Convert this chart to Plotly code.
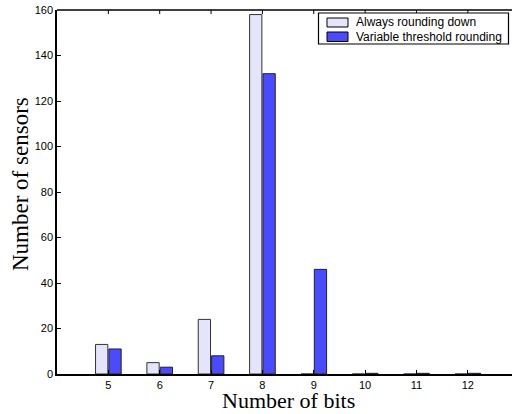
import plotly.graph_objects as go

bits = [5, 6, 7, 8, 9, 10, 11, 12]
always_down = [13, 5, 24, 158, 0, 0, 0, 0]
variable_thr = [11, 3, 8, 132, 46, 0.3, 0.3, 0.3]
y_ticks = [0, 20, 40, 60, 80, 100, 120, 140, 160]
names = ["Always rounding down", "Variable threshold rounding"]
colors = ["#e4e4fa", "#4a4aff"]
x_title = "Number of bits"
y_title = "Number of sensors"

fig = go.Figure()
fig.add_trace(go.Bar(x=bits, y=always_down, name=names[0],
                     marker=dict(color=colors[0], line=dict(color="#333333", width=1))))
fig.add_trace(go.Bar(x=bits, y=variable_thr, name=names[1],
                     marker=dict(color=colors[1], line=dict(color="#222222", width=1))))

def px(x):
    return (x - 57) / 455.0

def py(y):
    return (374 - y) / 364.0

shapes = [dict(type="line", xref="paper", yref="paper", x0=0, x1=1, y0=1, y1=1,
               line=dict(color="black", width=1.5))]
for b in bits:
    shapes.append(dict(type="line", xref="x", yref="paper", x0=b, x1=b,
                       y0=1, y1=py(14), line=dict(color="black", width=1)))

shapes.append(dict(type="rect", xref="paper", yref="paper",
                   x0=px(318.5), x1=px(508.5), y0=py(44), y1=py(13),
                   line=dict(color="black", width=1.2), fillcolor="white", layer="above"))
annots = []
rows = [(18, 27, 22.5), (32, 41.5, 36.8)]
for (t, b, c), name, col in zip(rows, names, colors):
    shapes.append(dict(type="rect", xref="paper", yref="paper",
                       x0=px(327), x1=px(348), y0=py(b), y1=py(t),
                       line=dict(color="black", width=1), fillcolor=col, layer="above"))
    annots.append(dict(xref="paper", yref="paper", x=px(354), y=py(c),
                       xanchor="left", yanchor="middle", text=name, showarrow=False,
                       font=dict(family="Liberation Sans, Arial", size=12, color="black")))

title_font = dict(family="Liberation Serif, DejaVu Serif", size=22, color="black")
annots.append(dict(xref="paper", yref="paper", x=px(288.5), y=py(413.5),
                   xanchor="center", yanchor="bottom", text=x_title, showarrow=False,
                   borderpad=0, font=title_font))
annots.append(dict(xref="paper", yref="paper", x=px(20), y=py(184),
                   xanchor="center", yanchor="middle", text=y_title, showarrow=False,
                   textangle=-90, font=dict(family="Liberation Serif, DejaVu Serif",
                                            size=23, color="black")))

fig.update_layout(
    template="none",
    width=512, height=414,
    margin=dict(l=57, r=0, t=10, b=40),
    paper_bgcolor="white", plot_bgcolor="white",
    barmode="group", bargap=0.48, bargroupgap=0.08,
    font=dict(family="Liberation Sans, Arial", size=11, color="black"),
    showlegend=False,
    shapes=shapes, annotations=annots,
    xaxis=dict(range=[4, 12.86], tickvals=bits, ticks="inside", ticklen=4,
               tickcolor="black", showline=True, linecolor="black", linewidth=1.5,
               showgrid=False, zeroline=False),
    yaxis=dict(range=[0, 160], tickvals=y_ticks, ticks="inside", ticklen=4,
               tickcolor="black", showline=True, linecolor="black", linewidth=1.5,
               showgrid=False, zeroline=False),
)
fig.write_html("out.html")
